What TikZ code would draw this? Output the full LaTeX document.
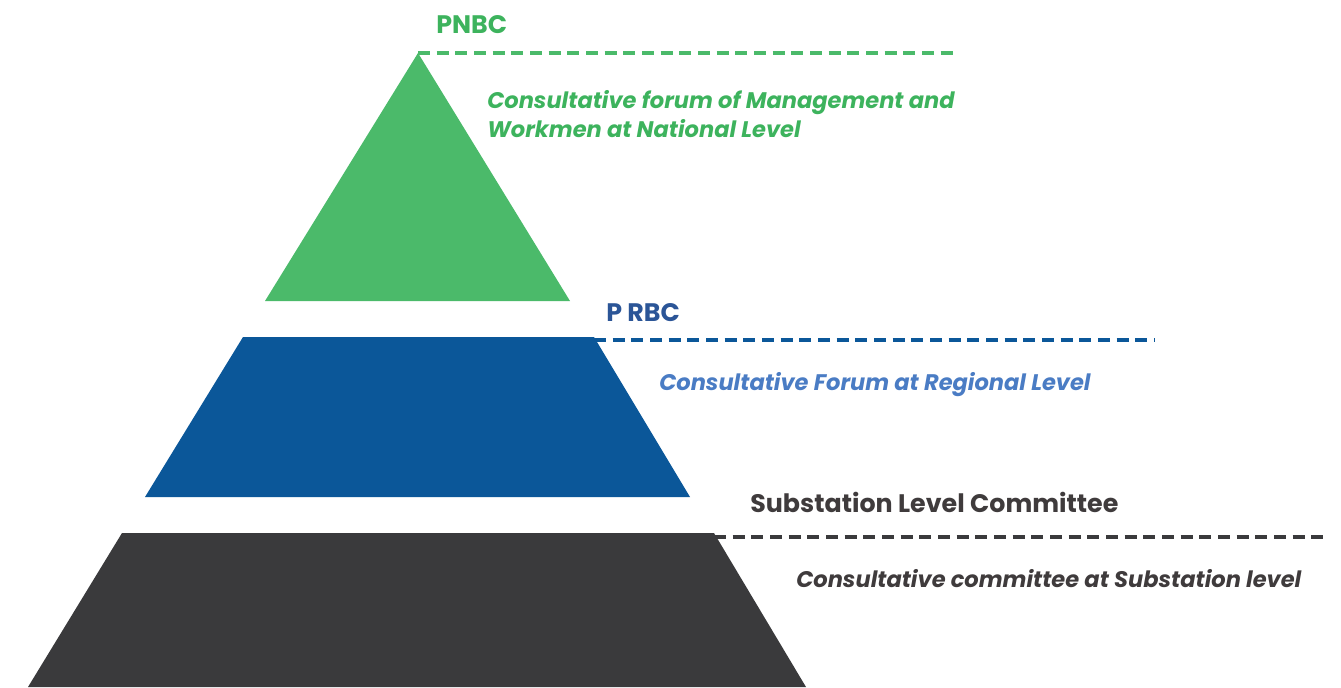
\documentclass[tikz,border=0pt]{standalone}
\usepackage{fontspec}
\setmainfont{Poppins}
\definecolor{tgreen}{HTML}{4BBA6A}
\definecolor{tgreentext}{HTML}{3DB35D}
\definecolor{tblue}{HTML}{0B5799}
\definecolor{tbluetitle}{HTML}{2B5597}
\definecolor{tbluetext}{HTML}{4A7CC4}
\definecolor{tdark}{HTML}{3A3A3C}
\definecolor{tdarktext}{HTML}{3F3B3C}
\begin{document}
\begin{tikzpicture}[x=0.75pt,y=-0.75pt,
  title/.style={anchor=base west,inner sep=0pt,font=\bfseries\fontsize{19}{23}\selectfont},
  sub/.style={anchor=base west,inner sep=0pt,align=left,font=\bfseries\itshape\fontsize{16.9}{21.75}\selectfont},
  guide/.style={line width=2.4pt,dash pattern=on 9pt off 5pt}]
\useasboundingbox (0,0) rectangle (1341,687);
% shapes
\coordinate (gA) at (418,53);
\coordinate (gL) at (265,301);
\coordinate (gR) at (570,301);
\fill[tgreen] (gA) -- (gR) -- (gL) -- cycle;
\coordinate (bTL) at (243,337);
\coordinate (bTR) at (594,337);
\coordinate (bBR) at (690,497);
\coordinate (bBL) at (145,497);
\fill[tblue] (bTL) -- (bTR) -- (bBR) -- (bBL) -- cycle;
\coordinate (dTL) at (122,533);
\coordinate (dTR) at (714,533);
\coordinate (dBR) at (806,687);
\coordinate (dBL) at (28,687);
\fill[tdark] (dTL) -- (dTR) -- (dBR) -- (dBL) -- cycle;
% guide lines
\coordinate (gE) at (953,53);
\draw[guide,tgreen] (gA) -- (gE);
\coordinate (bS) at (594,340);
\coordinate (bE) at (1155,340);
\draw[guide,tblue] (bS) -- (bE);
\coordinate (dS) at (714,537);
\coordinate (dE) at (1327,537);
\draw[guide,tdark] (dS) -- (dE);
% texts
\node[title,text=tgreentext] (t1) at (436,33) {PNBC};
\node[sub,text=tgreentext] (s1) at (487,137) {Consultative forum of Management and\\Workmen at National Level};
\node[title,text=tbluetitle] (t2) at (606,321) {P RBC};
\node[sub,text=tbluetext] (s2) at (659,390) {Consultative Forum at Regional Level};
\node[title,text=tdarktext] (t3) at (750,512) {Substation Level Committee};
\node[sub,text=tdarktext] (s3) at (796,587) {Consultative committee at Substation level};
\end{tikzpicture}
\end{document}
